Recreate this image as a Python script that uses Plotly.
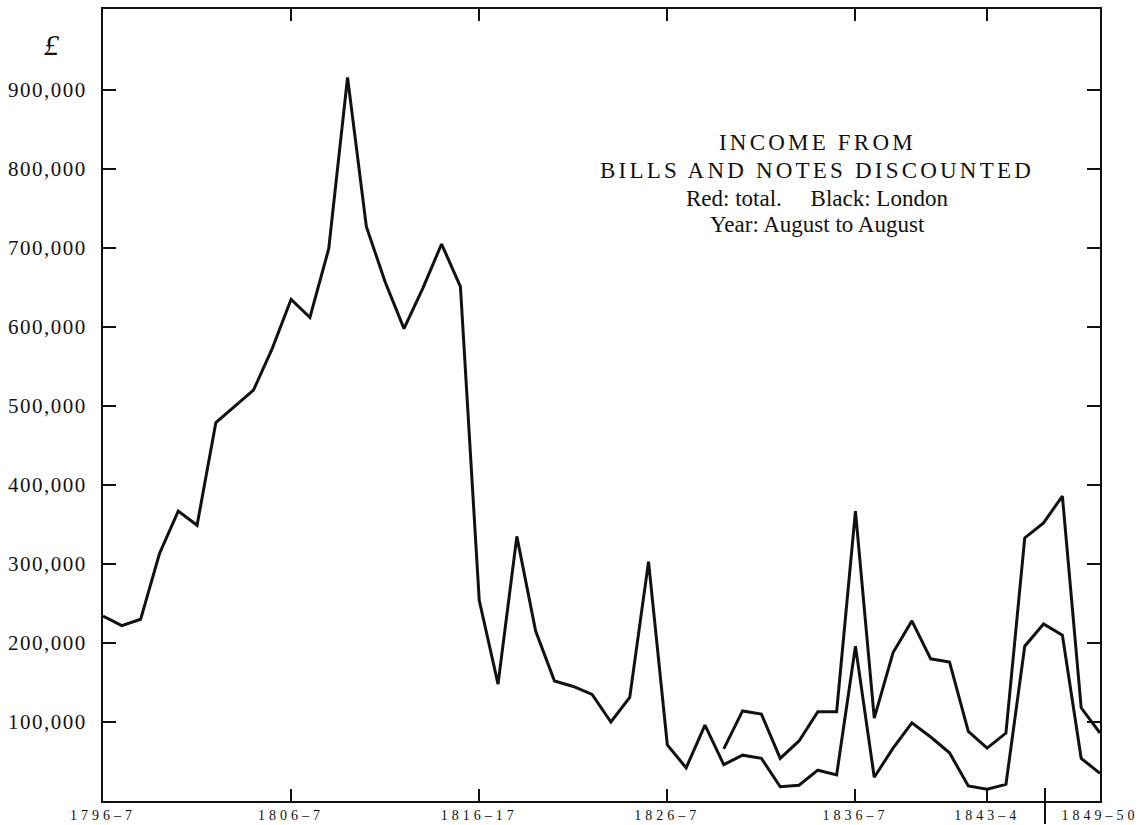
import plotly.graph_objects as go

# ---------------- data ----------------
years = list(range(1796, 1850))
london = [234000, 222000, 230000, 313000, 367000, 349000, 479000, 500000, 520000, 573000,
          635000, 612000, 699000, 916000, 727000, 657000, 598000, 649000, 705000, 651000,
          254000, 148000, 335000, 215000, 152000, 145000, 135000, 100000, 131000, 303000,
          71000, 42000, 96000, 46000, 58000, 54000, 18000, 20000, 39000, 33000,
          196000, 30000, 67000, 99000, 81000, 61000, 19000, 15000, 21000, 196000,
          224000, 210000, 54000, 35000]
total_years = list(range(1829, 1850))
total = [66000, 114000, 110000, 54000, 76000, 113000, 113000, 367000, 105000, 188000,
         228000, 180000, 176000, 88000, 67000, 86000, 333000, 352000, 386000, 118000, 86000]

x_tick_years = [1796, 1806, 1816, 1826, 1836, 1843, 1849]
x_tick_labels = ["1796–7", "1806–7", "1816–17", "1826–7", "1836–7", "1843–4", "1849–50"]
y_tick_values = [100000, 200000, 300000, 400000, 500000, 600000, 700000, 800000, 900000]
y_tick_labels = ["100,000", "200,000", "300,000", "400,000", "500,000",
                 "600,000", "700,000", "800,000", "900,000"]

title_lines = ["INCOME FROM", "BILLS AND NOTES DISCOUNTED",
               "Red: total.&nbsp;&nbsp;&nbsp;&nbsp;&nbsp;Black: London",
               "Year: August to August"]

# ---------------- layout geometry ----------------
W, H = 1143, 825
L, R, T, B = 103, 1100, 9, 801
INK = "#111111"
SERIF = "Liberation Serif"


def px_x(px):
    return (px - L) / (R - L)


def px_y(py):
    return (B - py) / (B - T)


fig = go.Figure()
fig.add_trace(go.Scatter(x=years, y=london, mode="lines", name="London",
                         line=dict(color=INK, width=3), hoverinfo="x+y"))
fig.add_trace(go.Scatter(x=total_years, y=total, mode="lines", name="Total",
                         line=dict(color=INK, width=3), hoverinfo="x+y"))

fig.update_layout(
    width=W, height=H,
    margin=dict(l=L, r=W - R, t=T, b=H - B, autoexpand=False),
    paper_bgcolor="white", plot_bgcolor="white",
    showlegend=False,
    font=dict(family=SERIF, color=INK),
)
fig.update_xaxes(
    range=[1796, 1849], showgrid=False, zeroline=False,
    showline=True, linecolor=INK, linewidth=2, mirror="ticks",
    ticks="inside", ticklen=12, tickwidth=2, tickcolor=INK,
    tickmode="array", tickvals=x_tick_years,
    ticktext=['<span style="letter-spacing:4px">%s</span>' % t for t in x_tick_labels],
    tickfont=dict(family=SERIF, size=14, color=INK),
    ticklabelstandoff=0,
)
fig.update_yaxes(
    range=[0, 1002500], showgrid=False, zeroline=False,
    showline=True, linecolor=INK, linewidth=2, mirror="ticks",
    ticks="inside", ticklen=13, tickwidth=2, tickcolor=INK,
    tickmode="array", tickvals=y_tick_values,
    ticktext=['<span style="letter-spacing:1.5px">%s</span>' % t for t in y_tick_labels],
    tickfont=dict(family=SERIF, size=21, color=INK),
    ticklabelstandoff=10,
)

# pound sign
fig.add_annotation(text="<i>£</i>", x=px_x(52), y=px_y(44), xref="paper", yref="paper",
                   showarrow=False, font=dict(family=SERIF, size=30, color=INK),
                   xanchor="center", yanchor="middle")

# title block
centers_y = [142, 170, 198, 225]
for i, (txt, cy) in enumerate(zip(title_lines, centers_y)):
    if i < 2:
        txt = '<span style="letter-spacing:3.2px">%s</span>' % txt
    fig.add_annotation(text=txt, x=px_x(817), y=px_y(cy), xref="paper", yref="paper",
                       showarrow=False, font=dict(family=SERIF, size=23, color=INK),
                       xanchor="center", yanchor="middle")

# separator stroke between the last two year labels
fig.add_shape(type="line", xref="paper", yref="paper",
              x0=px_x(1045), x1=px_x(1045), y0=px_y(788), y1=px_y(824),
              line=dict(color=INK, width=2))

fig.write_html("out.html", config={"displayModeBar": False},
               post_script="document.body.style.margin='0';document.body.style.overflow='hidden';")
